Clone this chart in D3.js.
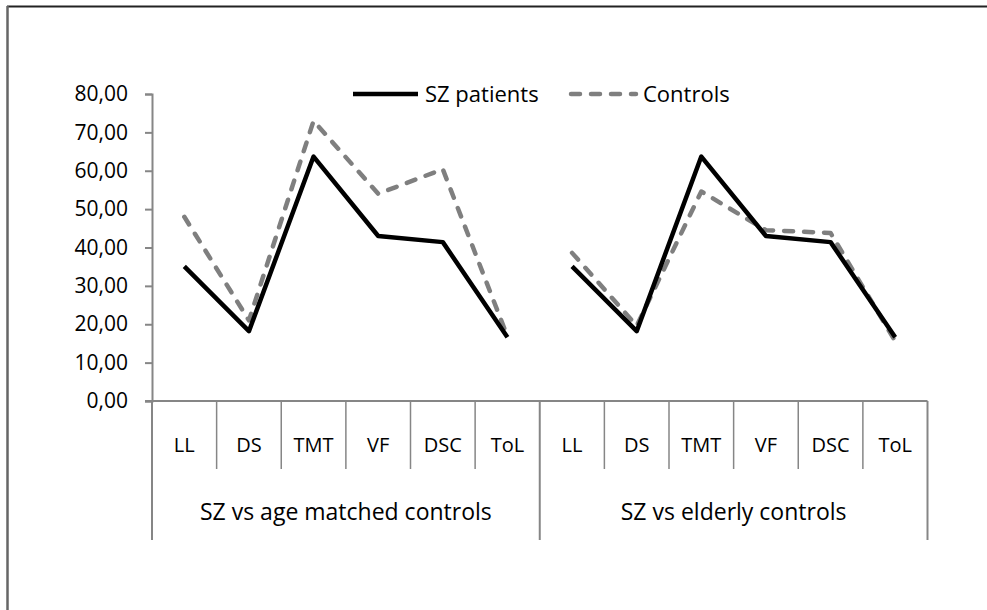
<!DOCTYPE html>
<html><head><meta charset="utf-8">
<script src="https://cdn.jsdelivr.net/npm/d3@7"></script>
<style>body{margin:0;background:#fff}svg{display:block}text{font-family:"Open Sans",sans-serif;fill:#000}</style>
</head><body><div id="c"></div>
<script>
const groups = ["SZ vs age matched controls", "SZ vs elderly controls"];
const tests = ["LL", "DS", "TMT", "VF", "DSC", "ToL"];
const szPatients = [35.1, 18.2, 63.7, 43.0, 41.4, 16.6, 35.1, 18.2, 63.7, 43.0, 41.4, 16.6];
const controls = [48.0, 21.0, 73.0, 54.0, 60.4, 16.8, 38.6, 19.6, 54.6, 44.5, 43.8, 15.6];
const yTicks = [0, 10, 20, 30, 40, 50, 60, 70, 80];
const seriesNames = ["SZ patients", "Controls"];

const W = 987, H = 610;
const svg = d3.select("#c").append("svg").attr("width", W).attr("height", H);
const fmt = v => d3.format(".2f")(v).replace(".", ",");

// frame
svg.append("line").attr("x1", 7).attr("x2", W).attr("y1", 6.5).attr("y2", 6.5).attr("stroke", "#222").attr("stroke-width", 2);
svg.append("line").attr("x1", 7.5).attr("x2", 7.5).attr("y1", 6).attr("y2", H).attr("stroke", "#666").attr("stroke-width", 2.5);

const x0 = 152, x1 = 927.5, yBase = 401, yTop = 94;
const cats = [];
groups.forEach((g, gi) => tests.forEach(t => cats.push(gi + "|" + t)));
const x = d3.scaleBand().domain(cats).range([x0, x1]);
const y = d3.scaleLinear().domain([0, 80]).range([yBase, yTop]);
const axisCol = "#868686";

// y axis
const ya = svg.append("g").attr("transform", `translate(${x0},0)`)
  .call(d3.axisLeft(y).tickValues(yTicks).tickFormat(fmt).tickSize(7).tickPadding(17));
ya.select(".domain").attr("stroke", axisCol).attr("stroke-width", 2);
ya.selectAll(".tick line").attr("stroke", axisCol).attr("stroke-width", 2);
ya.selectAll(".tick text").attr("font-size", 21).attr("font-family", "Open Sans").attr("fill", "#000");

// x axis line
svg.append("line").attr("x1", x0 - 7).attr("x2", x1).attr("y1", yBase).attr("y2", yBase).attr("stroke", axisCol).attr("stroke-width", 2);

// category separators
const bounds = cats.map(c => x(c)).concat([x1]);
bounds.forEach((b, i) => {
  const major = (i % tests.length === 0);
  svg.append("line").attr("x1", b).attr("x2", b).attr("y1", yBase).attr("y2", major ? 540 : 469)
    .attr("stroke", axisCol).attr("stroke-width", major ? 2 : 1.5);
});
cats.forEach(c => {
  svg.append("text").attr("x", x(c) + x.bandwidth() / 2).attr("y", 445).attr("dy", "0.35em")
    .attr("text-anchor", "middle").attr("font-size", 20).text(c.split("|")[1]);
});
groups.forEach((g, gi) => {
  const a = x(gi + "|" + tests[0]), b = x(gi + "|" + tests[tests.length - 1]) + x.bandwidth();
  svg.append("text").attr("x", (a + b) / 2).attr("y", 512).attr("dy", "0.35em")
    .attr("text-anchor", "middle").attr("font-size", 23).text(g);
});

// lines
function drawGroup(vals, style) {
  groups.forEach((g, gi) => {
    const n = tests.length;
    const seg = vals.slice(gi * n, gi * n + n);
    const l = d3.line().x((d, i) => x(cats[gi * n + i]) + x.bandwidth() / 2).y(d => y(d));
    const p = svg.append("path").attr("d", l(seg)).attr("fill", "none")
      .attr("stroke", style.color).attr("stroke-width", style.w).attr("stroke-linejoin", "round");
    if (style.dash) p.attr("stroke-dasharray", style.dash).attr("stroke-linecap", "round");
  });
}
const styles = [{color: "#000", w: 4.5, dash: null}, {color: "#7f7f7f", w: 4.5, dash: "9,11"}];
drawGroup(controls, styles[1]);
drawGroup(szPatients, styles[0]);

// legend
const leg = [{x: 353, name: seriesNames[0], s: styles[0]}, {x: 571, name: seriesNames[1], s: styles[1]}];
leg.forEach(L => {
  const p = svg.append("line").attr("x1", L.x).attr("x2", L.x + 65).attr("y1", 94).attr("y2", 94)
    .attr("stroke", L.s.color).attr("stroke-width", L.s.w);
  if (L.s.dash) p.attr("stroke-dasharray", L.s.dash).attr("stroke-linecap", "round");
  svg.append("text").attr("x", L.x + 72).attr("y", 94).attr("dy", "0.35em").attr("font-size", 22).text(L.name);
});
</script></body></html>
